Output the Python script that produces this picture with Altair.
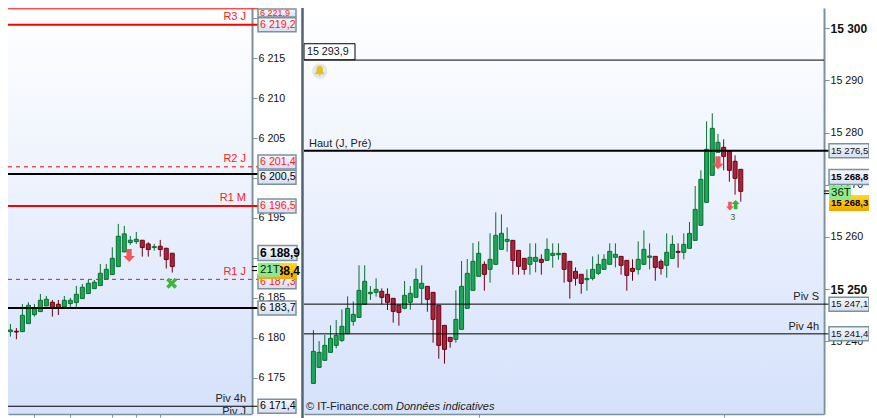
import altair as alt
import pandas as pd

FONT = "Liberation Sans"

# ---------- left panel candles ----------
L_OPEN = [6180.75, 6180.8, 6180.75, 6181.76, 6182.88, 6183.26, 6183.97, 6184.43, 6184.18, 6183.84, 6184.26, 6184.39, 6184.89, 6185.52, 6186.14, 6186.52, 6187.31, 6187.9, 6188.9, 6190.74, 6191.91, 6192.03, 6192.2, 6191.74, 6191.28, 6191.45, 6191.2, 6190.57]
L_HIGH = [6181.71, 6181.2, 6184.2, 6184.43, 6184.22, 6185.47, 6185.22, 6184.72, 6184.72, 6185.22, 6184.97, 6186.48, 6186.73, 6187.23, 6187.23, 6189.23, 6189.23, 6191.32, 6194.25, 6194.0, 6192.74, 6193.24, 6192.2, 6191.95, 6191.74, 6192.24, 6191.2, 6190.57]
L_LOW = [6180.13, 6179.8, 6180.75, 6181.76, 6182.63, 6183.26, 6183.97, 6182.63, 6182.84, 6183.84, 6183.84, 6183.84, 6184.89, 6185.52, 6186.14, 6186.52, 6187.31, 6187.9, 6188.9, 6190.74, 6191.61, 6191.74, 6190.15, 6190.15, 6190.9, 6190.15, 6188.65, 6188.15]
L_CLOSE = [6180.96, 6180.7, 6182.8, 6184.05, 6183.64, 6184.68, 6184.81, 6183.76, 6183.76, 6184.68, 6184.68, 6185.43, 6186.31, 6186.81, 6186.94, 6188.06, 6188.56, 6189.94, 6192.7, 6193.0, 6192.2, 6192.32, 6191.28, 6191.03, 6191.4, 6191.03, 6189.78, 6188.9]

# ---------- right panel candles ----------
R_OPEN = [15231.9, 15234.97, 15236.32, 15237.85, 15239.19, 15240.15, 15241.43, 15243.8, 15244.56, 15247.06, 15249.1, 15249.36, 15249.55, 15248.98, 15248.21, 15246.93, 15246.29, 15247.44, 15248.4, 15250.13, 15250.51, 15249.36, 15246.87, 15243.03, 15240.73, 15240.34, 15242.26, 15246.29, 15249.74, 15252.43, 15254.73, 15253.77, 15254.73, 15257.6,
          15259.14, 15259.33, 15257.41, 15255.88, 15254.73, 15255.3, 15255.69, 15255.49, 15256.45, 15256.58, 15256.84, 15255.3, 15253.38, 15252.81, 15251.79, 15252.04, 15253.0, 15253.77, 15254.73, 15256.07, 15256.26, 15255.49, 15253.96, 15253.77, 15254.73, 15256.07, 15256.26, 15255.3, 15254.54, 15255.88, 15257.22, 15257.03, 15257.8, 15259.33, 15262.21, 15266.62, 15271.8, 15276.21, 15277.17, 15276.4, 15274.49, 15272.95]
R_HIGH = [15242.13, 15240.02, 15241.17, 15243.03, 15244.05, 15246.1, 15248.59, 15247.63, 15254.54, 15254.54, 15250.57, 15252.05, 15250.13, 15250.13, 15248.21, 15246.93, 15251.53, 15250.57, 15253.96, 15254.54, 15250.51, 15249.36, 15246.87, 15243.03, 15240.73, 15249.74, 15255.37, 15255.75, 15258.82, 15259.14, 15255.31, 15260.68, 15264.7, 15264.32,
          15261.82, 15259.33, 15257.41, 15255.88, 15258.76, 15258.76, 15256.65, 15259.72, 15258.76, 15258.76, 15256.84, 15255.3, 15254.15, 15252.81, 15253.77, 15256.26, 15256.65, 15256.65, 15258.76, 15258.76, 15256.26, 15255.49, 15255.69, 15259.14, 15261.25, 15258.76, 15256.26, 15255.69, 15260.67, 15260.29, 15258.76, 15260.67, 15262.85, 15269.75, 15272.76, 15282.16, 15283.69, 15279.73, 15278.7, 15276.4, 15275.64, 15272.95]
R_LOW = [15231.9, 15234.97, 15236.32, 15237.85, 15238.62, 15239.83, 15241.43, 15242.96, 15244.56, 15247.06, 15247.89, 15248.53, 15247.06, 15245.97, 15243.54, 15242.96, 15246.1, 15246.03, 15248.4, 15247.06, 15245.65, 15239.71, 15236.63, 15235.68, 15238.74, 15239.71, 15242.26, 15246.29, 15249.74, 15252.43, 15249.68, 15251.21, 15254.73, 15257.6,
         15257.16, 15252.75, 15252.75, 15252.75, 15252.75, 15253.19, 15252.75, 15255.49, 15254.09, 15255.62, 15251.21, 15248.14, 15250.64, 15249.1, 15249.68, 15251.66, 15252.68, 15253.77, 15254.73, 15254.15, 15252.75, 15249.68, 15251.59, 15252.75, 15254.73, 15253.77, 15251.59, 15252.75, 15252.17, 15255.88, 15254.09, 15255.69, 15257.8, 15259.33, 15262.21, 15266.62, 15271.8, 15276.21, 15272.76, 15270.58, 15268.09, 15266.75]
R_CLOSE = [15238.04, 15237.85, 15239.19, 15240.54, 15241.11, 15242.84, 15246.29, 15245.14, 15249.74, 15251.47, 15249.36, 15249.93, 15248.4, 15247.44, 15245.71, 15245.52, 15248.78, 15249.17, 15251.85, 15251.09, 15248.02, 15244.18, 15239.19, 15238.43, 15239.96, 15244.18, 15250.51, 15253.0, 15255.31, 15256.84, 15252.81, 15255.69, 15260.29, 15260.68,
           15259.52, 15255.49, 15254.34, 15253.77, 15256.07, 15256.07, 15255.11, 15257.6, 15256.84, 15256.84, 15253.77, 15251.47, 15252.04, 15251.08, 15252.04, 15253.77, 15254.73, 15255.69, 15257.22, 15256.65, 15254.54, 15252.62, 15253.38, 15255.69, 15257.6, 15256.33, 15254.15, 15253.96, 15257.03, 15258.56, 15257.03, 15258.56, 15260.67, 15265.28, 15271.03, 15276.79, 15280.81, 15278.13, 15275.44, 15272.76, 15271.22, 15268.73]

# ---------- levels ----------
L_LEVEL_V = [6221.2, 6219.2, 6201.4, 6200.5, 6196.5, 6187.3, 6183.7, 6171.4]
L_LEVEL_C = ["#ff0000", "#ff0000", "#ff0000", "#000000", "#ff0000", "#e01818", "#000000", "#000000"]
L_LEVEL_W = [1, 2, 1, 2, 2, 1, 2, 1]
L_LEVEL_D = [0, 0, 1, 0, 0, 1, 0, 0]

R_LEVEL_V = [15276.5, 15247.1, 15241.4]
R_LEVEL_W = [2, 1, 1]
R_ALERT_V = [15293.9]

# ---------- labels on lines ----------
L_NOTE_T = ["R3 J", "R2 J", "R1 M", "R1 J", "Piv 4h", "Piv J"]
L_NOTE_V = [6219.2, 6201.4, 6196.5, 6187.3, 6171.4, 6169.7]
L_NOTE_C = ["#ff2020", "#ff2020", "#ff2020", "#ff2020", "#222222", "#222222"]
R_NOTE_T = ["Piv S", "Piv 4h"]
R_NOTE_V = [15247.1, 15241.4]

# ---------- tags ----------
L_TOP_T = ["6 221,9"]
L_TOP_V = [6220.68]
L_TAG_T = ["6 219,2", "6 201,4", "6 200,5", "6 196,5", "6 187,3", "6 183,7", "6 171,4"]
L_TAG_V = [6219.2, 6202.0, 6200.1, 6196.5, 6187.0, 6183.7, 6171.4]
L_TAG_C = ["#ff2020", "#ff2020", "#000000", "#ff2020", "#ff2020", "#000000", "#000000"]
R_TAG_T = ["15 276,5", "15 247,1", "15 241,4"]
R_TAG_V = [15276.5, 15247.1, 15241.4]

L_PRICE = [6188.9, 6188.4]
R_PRICE = [15268.8, 15268.3]

GRID_L = [6175, 6180, 6185, 6190, 6195, 6200, 6205, 6210, 6215, 6220]
GRID_R = [15240, 15250, 15260, 15270, 15280, 15290, 15300]

GREEN_FILL, GREEN_LINE = "#1aa858", "#0a6e30"
RED_FILL, RED_LINE = "#a5263c", "#6e0010"
AXIS_C = "#7b919c"

PAGE_GRAD = alt.LinearGradient(
    gradient="linear", x1=0, x2=0, y1=0, y2=1,
    stops=[alt.GradientStop(offset=0, color="#ffffff"),
           alt.GradientStop(offset=1, color="#d5e1fb")],
)
TAG_GRAD = alt.LinearGradient(
    gradient="linear", x1=0, x2=0, y1=0, y2=1,
    stops=[alt.GradientStop(offset=0, color="#f6f8fd"),
           alt.GradientStop(offset=1, color="#d6dff0")],
)
GOLD_GRAD = alt.LinearGradient(
    gradient="linear", x1=0, x2=0, y1=0, y2=1,
    stops=[alt.GradientStop(offset=0, color="#ffd820"),
           alt.GradientStop(offset=1, color="#f2a800")],
)

ARROW_DOWN = "M-0.4,-1 L0.4,-1 L0.4,0.1 L0.9,0.1 L0,1 L-0.9,0.1 L-0.4,0.1 Z"
ARROW_UP = "M-0.4,1 L0.4,1 L0.4,-0.1 L0.9,-0.1 L0,-1 L-0.9,-0.1 L-0.4,-0.1 Z"
CROSS_X = "M-1,-0.55 L-0.55,-1 L0,-0.45 L0.55,-1 L1,-0.55 L0.45,0 L1,0.55 L0.55,1 L0,0.45 L-0.55,1 L-1,0.55 L-0.45,0 Z"
BELL = "M0,-1 C0.45,-1 0.6,-0.6 0.6,-0.2 C0.6,0.2 0.8,0.4 1,0.6 L-1,0.6 C-0.8,0.4 -0.6,0.2 -0.6,-0.2 C-0.6,-0.6 -0.45,-1 0,-1 Z M-0.25,0.7 L0.25,0.7 L0,1 Z"

TOTAL_W, TOTAL_H, H = 861, 410, 406
LX, LW, RX, RW = 0, 244, 296, 520


def candles(o, h, l, c):
    return pd.DataFrame({
        "i": range(len(o)), "o": o, "h": h, "l": l, "c": c,
        "fill": [GREEN_FILL if b >= a else RED_FILL for a, b in zip(o, c)],
        "line": [GREEN_LINE if b >= a else RED_LINE for a, b in zip(o, c)],
    })


def panel(df, OX, W, xdom, ydom, grid, xticks, extra, tag_w, tag_df, price, gold, green, cur_size, tag_size, lab_small, lab_big):
    xs = alt.Scale(domain=xdom, range=[OX, OX + W], nice=False, zero=False)
    ys = alt.Scale(domain=ydom, range=[H, 0], nice=False, zero=False)
    tag_x = OX + W + (6 if OX == 0 else 5)
    X = alt.X("i:Q", scale=xs, title=None,
              axis=alt.Axis(orient="bottom", values=xticks, labels=False, grid=False, tickSize=3, offset=H - TOTAL_H,
                            tickColor=AXIS_C, domainColor=AXIS_C, domainWidth=1.5, zindex=1))
    yv = alt.Y("v:Q", scale=ys, title=None)
    bg = alt.Chart(pd.DataFrame({"a": [0]})).mark_rect(fill=PAGE_GRAD).encode(
        x=alt.value(OX), x2=alt.value(OX + W - 1), y=alt.value(0), y2=alt.value(H))
    wick = alt.Chart(df).mark_rule(strokeWidth=1).encode(
        x=X,
        y=alt.Y("l:Q", scale=ys, title=None,
                axis=alt.Axis(orient="right", values=grid, grid=False, tickSize=5, tickColor=AXIS_C,
                              offset=OX + W - TOTAL_W,
                              domainColor=AXIS_C, domainWidth=2, labelFont=FONT, labelColor="#111111",
                              labelPadding=1, labelOverlap=False, labelBound=False, labelFlush=False,
                              labelExpr="replace(format(datum.value, ','), ',', ' ')",
                              labelFontWeight=alt.expr("datum.value % 50 == 0 ? 'bold' : 'normal'"),
                              labelFontSize=alt.expr(f"datum.value % 50 == 0 ? {lab_big} : {lab_small}"))),
        y2="h:Q",
        color=alt.Color("line:N", scale=None),
    )
    body = alt.Chart(df).mark_bar(size=4, strokeWidth=1).encode(
        x=alt.X("i:Q", scale=xs, title=None),
        y=alt.Y("o:Q", scale=ys, title=None),
        y2="c:Q",
        fill=alt.Fill("fill:N", scale=None),
        stroke=alt.Stroke("line:N", scale=None),
    )
    layers = [bg, wick, body] + extra(xs, ys, yv, OX, W)
    box = alt.Chart(tag_df).mark_rect(height=14, fill=TAG_GRAD, stroke=AXIS_C, strokeWidth=1.5).encode(
        x=alt.value(tag_x), x2=alt.value(tag_x + tag_w), y=yv)
    txt = alt.Chart(tag_df).mark_text(align="left", baseline="middle", font=FONT, fontSize=tag_size).encode(
        x=alt.value(tag_x + 2), y=yv, text="t:N", color=alt.Color("c:N", scale=None))
    ticks = alt.Chart(pd.DataFrame({"v": price})).mark_rule(color="#000000", strokeWidth=1).encode(
        x=alt.value(OX + W), x2=alt.value(OX + W + 5), y=yv)
    cur_df = pd.DataFrame({"v": [gold["cur_v"]], "t": [gold["cur_t"]]})
    gold_df = pd.DataFrame({"v": [gold["gold_v"]], "t": [gold["gold_t"]]})
    green_df = pd.DataFrame({"v": [green["v"]], "t": [green["t"]]})
    cur_box = alt.Chart(cur_df).mark_rect(height=15, fill=TAG_GRAD, stroke=AXIS_C, strokeWidth=1.5).encode(
        x=alt.value(tag_x), x2=alt.value(tag_x + tag_w + 1), y=yv)
    cur_txt = alt.Chart(cur_df).mark_text(align="left", baseline="middle", font=FONT, fontSize=cur_size,
                                          fontWeight="bold", color="#000000").encode(
        x=alt.value(tag_x + 2), y=yv, text="t:N")
    gold_box = alt.Chart(gold_df).mark_rect(height=16, fill=GOLD_GRAD).encode(
        x=alt.value(tag_x), x2=alt.value(tag_x + tag_w + 1), y=yv)
    gold_txt = alt.Chart(gold_df).mark_text(align="left", baseline="middle", font=FONT, fontSize=cur_size,
                                            fontWeight="bold", color="#000000").encode(
        x=alt.value(tag_x + 2), y=yv, text="t:N")
    green_box = alt.Chart(green_df).mark_rect(height=14, fill="#8fe88f").encode(
        x=alt.value(tag_x), x2=alt.value(tag_x + 22), y=yv)
    green_txt = alt.Chart(green_df).mark_text(align="left", baseline="middle", font=FONT, fontSize=11.5,
                                              color="#0a2a0a").encode(
        x=alt.value(tag_x + 2), y=yv, text="t:N")
    layers += [ticks, box, txt, cur_box, cur_txt, gold_box, gold_txt, green_box, green_txt]
    return alt.layer(*layers)


def shape_layer(xs, yv, row, path, size, color):
    d = pd.DataFrame({"i": [row[0]], "v": [row[1]]})
    return alt.Chart(d).mark_point(shape=path, size=size, filled=True, fill=color, stroke=color,
                                   strokeWidth=0, opacity=1).encode(
        x=alt.X("i:Q", scale=xs, title=None), y=yv)


def left_extra(xs, ys, yv, OX, W):
    lv = pd.DataFrame({"v": L_LEVEL_V, "c": L_LEVEL_C, "w": L_LEVEL_W, "d": L_LEVEL_D})
    out = []
    for dash, sub in lv.groupby("d"):
        for w, s2 in sub.groupby("w"):
            kw = {"strokeDash": [4, 4]} if dash else {}
            out.append(alt.Chart(s2).mark_rule(strokeWidth=float(w), **kw).encode(
                x=alt.value(OX), x2=alt.value(OX + W + 6), y=yv, color=alt.Color("c:N", scale=None)))
    nt = pd.DataFrame({"t": L_NOTE_T, "v": L_NOTE_V, "c": L_NOTE_C})
    out.append(alt.Chart(nt).mark_text(align="right", baseline="middle", dy=-7.5, font=FONT,
                                       fontSize=11).encode(
        x=alt.value(OX + W - 6), y=yv, text="t:N", color=alt.Color("c:N", scale=None)))
    out.append(alt.Chart(pd.DataFrame({"a": [0]})).mark_rect(fill="#ffffff").encode(
        x=alt.value(OX), x2=alt.value(OX + W + 6), y=alt.value(H), y2=alt.value(TOTAL_H)))
    out.append(shape_layer(xs, yv, (19.8, 6190.3), ARROW_DOWN, 170, "#ee5a5a"))
    out.append(shape_layer(xs, yv, (26.9, 6186.8), CROSS_X, 120, "#45b045"))
    top = pd.DataFrame({"t": L_TOP_T, "v": L_TOP_V})
    out.append(alt.Chart(top).mark_rect(height=8, fill=TAG_GRAD, stroke=AXIS_C, strokeWidth=1.5).encode(
        x=alt.value(OX + W + 6), x2=alt.value(OX + W + 44), y=yv))
    out.append(alt.Chart(top).mark_text(align="left", baseline="middle", font=FONT, fontSize=9,
                                        dy=0.5, color="#ff2020").encode(
        x=alt.value(OX + W + 8), y=yv, text="t:N"))
    return out


def right_extra(xs, ys, yv, OX, W):
    lv = pd.DataFrame({"v": R_LEVEL_V, "w": R_LEVEL_W})
    out = []
    for w, s2 in lv.groupby("w"):
        out.append(alt.Chart(s2).mark_rule(strokeWidth=float(w), color="#000000").encode(
            x=alt.value(OX), x2=alt.value(OX + W + 6), y=yv))
    out.append(alt.Chart(pd.DataFrame({"v": R_ALERT_V})).mark_rule(strokeWidth=1, color="#000000").encode(
        x=alt.value(OX), x2=alt.value(OX + W), y=yv))
    nt = pd.DataFrame({"t": R_NOTE_T, "v": R_NOTE_V})
    out.append(alt.Chart(nt).mark_text(align="right", baseline="middle", dy=-7, font=FONT, fontSize=11,
                                       color="#222222").encode(
        x=alt.value(OX + W - 5), y=yv, text="t:N"))
    out.append(alt.Chart(pd.DataFrame({"t": ["Haut (J, Pré)"], "v": [15276.5]})).mark_text(
        align="left", baseline="middle", dy=-7, font=FONT, fontSize=11, color="#222222").encode(
        x=alt.value(OX + 5), y=yv, text="t:N"))
    ab = pd.DataFrame({"t": ["15 293,9"], "v": [15295.5]})
    out.append(alt.Chart(ab).mark_rect(height=16, fill="#ffffff", stroke="#000000", strokeWidth=1).encode(
        x=alt.value(OX), x2=alt.value(OX + 51), y=yv))
    out.append(alt.Chart(ab).mark_text(align="left", baseline="middle", font=FONT, fontSize=10.7,
                                       color="#111111").encode(
        x=alt.value(OX + 3), y=yv, text="t:N"))
    out.append(shape_layer(xs, yv, (1.1, 15291.8), "circle", 230, "#dfe7f0"))
    out.append(shape_layer(xs, yv, (1.1, 15291.8), BELL, 110, "#e6c020"))
    out.append(shape_layer(xs, yv, (71.0, 15274.2), ARROW_DOWN, 170, "#ee5a5a"))
    out.append(shape_layer(xs, yv, (73.1, 15265.9), ARROW_DOWN, 80, "#ee5a5a"))
    out.append(shape_layer(xs, yv, (74.1, 15266.2), ARROW_UP, 85, "#2fb82f"))
    out.append(alt.Chart(pd.DataFrame({"i": [73.6], "v": [15263.8], "t": ["3"]})).mark_text(
        font=FONT, fontSize=8.5, color="#445566").encode(
        x=alt.X("i:Q", scale=xs, title=None), y=yv, text="t:N"))
    out.append(alt.Chart(pd.DataFrame({"a": [0]})).mark_rule(color="#4f6470", strokeWidth=2.5).encode(
        x=alt.value(OX - 1.5), y=alt.value(0), y2=alt.value(TOTAL_H)))
    out.append(alt.Chart(pd.DataFrame({"t": ["© IT-Finance.com"]})).mark_text(
        align="left", baseline="middle", font=FONT, fontSize=11, color="#222222").encode(
        x=alt.value(OX + 2), y=alt.value(H - 7), text="t:N"))
    out.append(alt.Chart(pd.DataFrame({"t": ["Données indicatives"]})).mark_text(
        align="left", baseline="middle", font=FONT, fontSize=11, fontStyle="italic", color="#222222").encode(
        x=alt.value(OX + 92), y=alt.value(H - 7), text="t:N"))
    return out


left = panel(candles(L_OPEN, L_HIGH, L_LOW, L_CLOSE), LX, LW, [0.432, 39.472], [6170.43, 6221.3], GRID_L,
             [4, 10, 17, 21, 25], left_extra, 38,
             pd.DataFrame({"t": L_TAG_T, "v": L_TAG_V, "c": L_TAG_C}), L_PRICE,
             {"cur_v": 6190.6, "cur_t": "6 188,9", "gold_v": 6188.35, "gold_t": "6 188,4"},
             {"v": 6188.5, "t": "21T"}, 12, 10.7, 10.7, 12)
right = panel(candles(R_OPEN, R_HIGH, R_LOW, R_CLOSE), RX, RW, [-0.775, 88.73], [15226.03, 15303.89], GRID_R,
              [29, 72], right_extra, 40,
              pd.DataFrame({"t": R_TAG_T, "v": R_TAG_V, "c": ["#111111"] * 3}), R_PRICE,
              {"cur_v": 15271.5, "cur_t": "15 268,8", "gold_v": 15266.5, "gold_t": "15 268,3"},
              {"v": 15268.5, "t": "36T"}, 9.6, 9.6, 10.7, 12)

chart = alt.layer(left, right).resolve_scale(x="independent", y="independent").properties(
    width=TOTAL_W, height=TOTAL_H, padding=0, autosize=alt.AutoSizeParams(type="none")
).configure_view(stroke=None)
chart.save("out.html", embed_options={"renderer": "svg", "actions": False})
